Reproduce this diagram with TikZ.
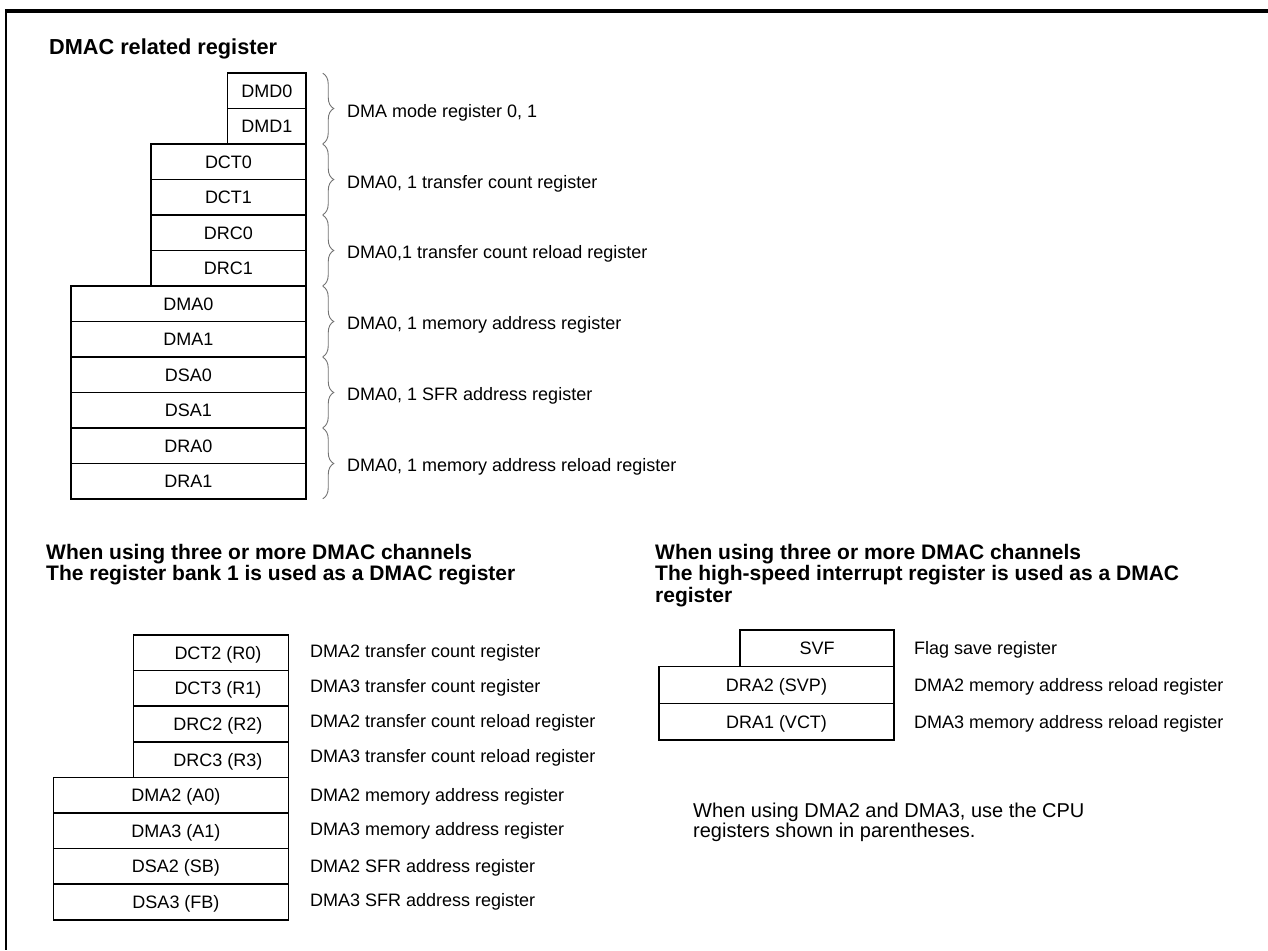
\documentclass[tikz,border=0pt]{standalone}
\usepackage{fontspec}
\setmainfont{Liberation Sans}
\usetikzlibrary{decorations.pathreplacing}
\newcommand{\myfs}[1]{\fontsize{#1}{#1}\selectfont}
\begin{document}
\begin{tikzpicture}[x=1pt,y=-1pt,
  reg/.style={draw, line width=1.5pt, inner sep=0pt, font=\myfs{18}, text height=13pt, text depth=0pt},
  top/.style={reg, minimum height=35.5pt},
  bot/.style={reg, minimum height=35.6pt},
  rgt/.style={reg, minimum height=36.7pt},
  lbl/.style={anchor=base west, inner sep=0pt, font=\myfs{18}},
  note/.style={anchor=base west, inner sep=0pt, font=\myfs{20}},
  head/.style={anchor=base west, inner sep=0pt, font=\bfseries\myfs{21.7}},
  head2/.style={anchor=base west, inner sep=0pt, font=\bfseries\myfs{21}},
  br/.style={decorate, decoration={brace, amplitude=11pt}, draw=black!55, line width=0.9pt},
]
\useasboundingbox (0,0) rectangle (1268,950);
% frame
\draw[line width=3.2pt] (4.8,11) -- (1268,11);
\draw[line width=2.4pt] (6.2,11) -- (6.2,950);

% ---------- top section ----------
\node[head] (t0) at (49,54.3) {DMAC related register};

\node[top, minimum width=78.3pt] (dmd0) at (266.85,90.75) {DMD0};
\node[top, minimum width=78.3pt] (dmd1) at (266.85,126.25) {DMD1};
\node[top, minimum width=155pt] (dct0) at (228.5,161.75) {DCT0};
\node[top, minimum width=155pt] (dct1) at (228.5,197.25) {DCT1};
\node[top, minimum width=155pt] (drc0) at (228.5,232.75) {DRC0};
\node[top, minimum width=155pt] (drc1) at (228.5,268.25) {DRC1};
\node[top, minimum width=235pt] (dma0) at (188.5,303.75) {DMA0};
\node[top, minimum width=235pt] (dma1) at (188.5,339.25) {DMA1};
\node[top, minimum width=235pt] (dsa0) at (188.5,374.75) {DSA0};
\node[top, minimum width=235pt] (dsa1) at (188.5,410.25) {DSA1};
\node[top, minimum width=235pt] (dra0) at (188.5,445.75) {DRA0};
\node[top, minimum width=235pt] (dra1) at (188.5,481.25) {DRA1};

\draw[br] ([xshift=16pt,yshift=-1pt]dmd0.north east) -- ([xshift=16pt,yshift=1pt]dmd1.south east);
\draw[br] ([xshift=16pt,yshift=-1pt]dct0.north east) -- ([xshift=16pt,yshift=1pt]dct1.south east);
\draw[br] ([xshift=16pt,yshift=-1pt]drc0.north east) -- ([xshift=16pt,yshift=1pt]drc1.south east);
\draw[br] ([xshift=16pt,yshift=-1pt]dma0.north east) -- ([xshift=16pt,yshift=1pt]dma1.south east);
\draw[br] ([xshift=16pt,yshift=-1pt]dsa0.north east) -- ([xshift=16pt,yshift=1pt]dsa1.south east);
\draw[br] ([xshift=16pt,yshift=-1pt]dra0.north east) -- ([xshift=16pt,yshift=1pt]dra1.south east);

\node[lbl] (ldmd) at (347,117.5) {DMA mode register 0, 1};
\node[lbl] (ldct) at (347,188) {DMA0, 1 transfer count register};
\node[lbl] (ldrc) at (347,258.5) {DMA0,1 transfer count reload register};
\node[lbl] (ldma) at (347,329.5) {DMA0, 1 memory address register};
\node[lbl] (ldsa) at (347,400.5) {DMA0, 1 SFR address register};
\node[lbl] (ldra) at (347,471.5) {DMA0, 1 memory address reload register};

% ---------- bottom left ----------
\node[head2] (h1) at (46,559) {When using three or more DMAC channels};
\node[head2] (h2) at (46,580.5) {The register bank 1 is used as a DMAC register};

\node[bot, minimum width=155.4pt] (dct2) at (211,652.8) {\hspace*{14pt}DCT2 (R0)};
\node[bot, minimum width=155.4pt] (dct3) at (211,688.4) {\hspace*{14pt}DCT3 (R1)};
\node[bot, minimum width=155.4pt] (drc2) at (211,724) {\hspace*{14pt}DRC2 (R2)};
\node[bot, minimum width=155.4pt] (drc3) at (211,759.6) {\hspace*{14pt}DRC3 (R3)};
\node[bot, minimum width=235.4pt] (dma2) at (171,795.2) {\hspace*{10pt}DMA2 (A0)};
\node[bot, minimum width=235.4pt] (dma3) at (171,830.8) {\hspace*{10pt}DMA3 (A1)};
\node[bot, minimum width=235.4pt] (dsa2) at (171,866.4) {\hspace*{10pt}DSA2 (SB)};
\node[bot, minimum width=235.4pt] (dsa3) at (171,902) {\hspace*{10pt}DSA3 (FB)};

\node[lbl] (ldct2) at (310,657.5) {DMA2 transfer count register};
\node[lbl] (ldct3) at (310,692.5) {DMA3 transfer count register};
\node[lbl] (ldrc2) at (310,727) {DMA2 transfer count reload register};
\node[lbl] (ldrc3) at (310,762) {DMA3 transfer count reload register};
\node[lbl] (ldma2) at (310,801) {DMA2 memory address register};
\node[lbl] (ldma3) at (310,835.5) {DMA3 memory address register};
\node[lbl] (ldsa2) at (310,872) {DMA2 SFR address register};
\node[lbl] (ldsa3) at (310,906.5) {DMA3 SFR address register};

% ---------- bottom right ----------
\node[head2] (h3) at (655,559) {When using three or more DMAC channels};
\node[head2] (h4) at (655,580.5) {The high-speed interrupt register is used as a DMAC};
\node[head2] (h5) at (655,602) {register};

\node[rgt, minimum width=154pt] (svf) at (817,648.3) {SVF};
\node[rgt, minimum width=235pt] (svp) at (776.5,685) {DRA2 (SVP)};
\node[rgt, minimum width=235pt] (vct) at (776.5,721.7) {DRA1 (VCT)};

\node[lbl] (lsvf) at (914,654) {Flag save register};
\node[lbl] (lsvp) at (914,691) {DMA2 memory address reload register};
\node[lbl] (lvct) at (914,728) {DMA3 memory address reload register};

\node[note] (n1) at (693,817) {When using DMA2 and DMA3, use the CPU};
\node[note] (n2) at (693,837) {registers shown in parentheses.};
\end{tikzpicture}
\end{document}
